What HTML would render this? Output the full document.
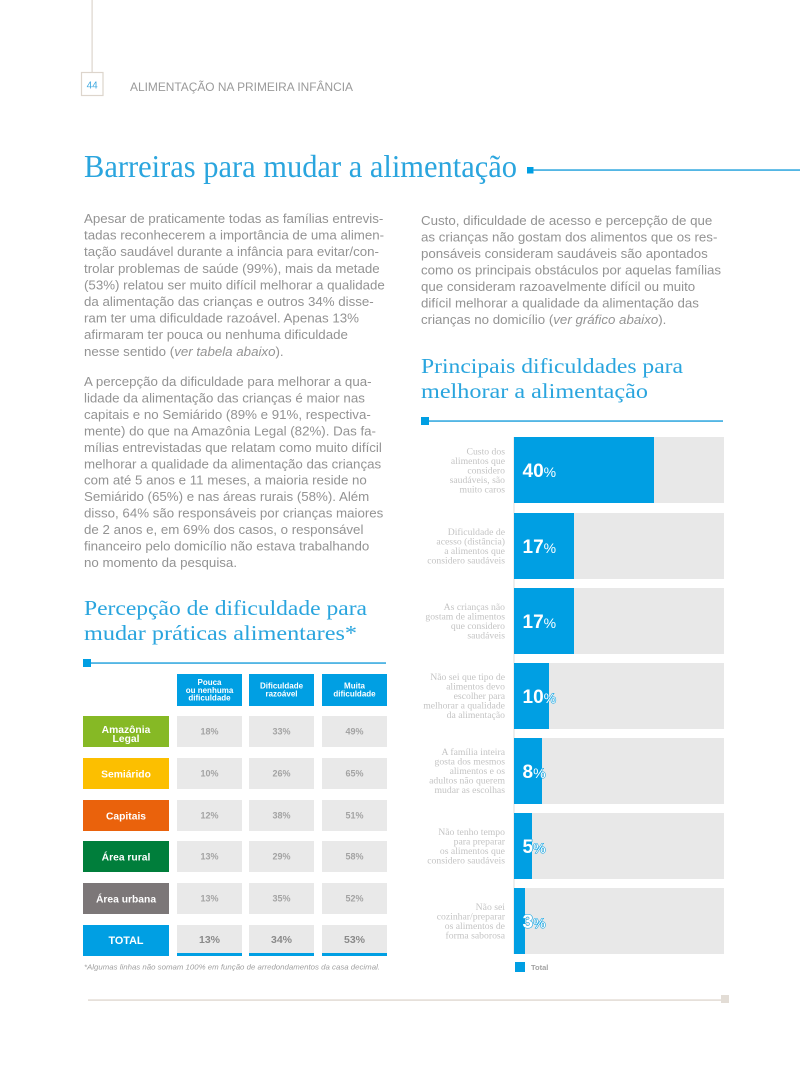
<!DOCTYPE html>
<html>
<head>
<meta charset="utf-8">
<style>
html,body{margin:0;padding:0;background:#fff;}
svg{display:block;}
.body{font-family:"Liberation Sans",sans-serif;font-size:13.3px;fill:#939393;}
.ttl{font-family:"Liberation Serif",serif;fill:#2aa5de;}
.hdr{font-family:"Liberation Sans",sans-serif;font-weight:bold;font-size:8px;fill:#fff;}
.lab{font-family:"Liberation Sans",sans-serif;font-weight:bold;font-size:10.3px;fill:#fff;}
.val{font-family:"Liberation Sans",sans-serif;font-weight:bold;font-size:9px;fill:#a3a3a3;}
.tval{font-family:"Liberation Sans",sans-serif;font-weight:bold;font-size:10.5px;fill:#8a8a8a;}
.cl{font-family:"Liberation Serif",serif;font-size:9.7px;fill:#c4c4c4;}
.pct{font-family:"Liberation Sans",sans-serif;font-weight:bold;font-size:19px;fill:#fff;stroke:#009fe3;stroke-width:1.1px;paint-order:stroke;}
.pct tspan.p{font-size:14px;font-weight:normal;}
</style>
</head>
<body>
<svg width="800" height="1067" viewBox="0 0 800 1067" xmlns="http://www.w3.org/2000/svg">
<!-- header -->
<rect x="91.5" y="0" width="1.2" height="72" fill="#ddd5cc"/>
<rect x="81.5" y="72.5" width="21.5" height="23" fill="#fff" stroke="#ddd5cc" stroke-width="1.2"/>
<text x="92.2" y="88.5" text-anchor="middle" font-family="Liberation Sans, sans-serif" font-size="10px" fill="#3fa9e0">44</text>
<text x="130" y="91" font-family="Liberation Sans, sans-serif" font-size="11.8px" fill="#9a9a9a" textLength="223" lengthAdjust="spacingAndGlyphs">ALIMENTAÇÃO NA PRIMEIRA INFÂNCIA</text>

<!-- main title -->
<text class="ttl" x="84" y="177" font-size="32px" textLength="433" lengthAdjust="spacingAndGlyphs">Barreiras para mudar a alimentação</text>
<rect x="527" y="167" width="6.5" height="6.5" fill="#009fe3"/>
<rect x="533" y="169.3" width="267" height="1.5" fill="#2aa5de"/>

<!-- left paragraph 1 -->
<g class="body">
<text x="84" y="223">Apesar de praticamente todas as famílias entrevis-</text>
<text x="84" y="239.6">tadas reconhecerem a importância de uma alimen-</text>
<text x="84" y="256.2">tação saudável durante a infância para evitar/con-</text>
<text x="84" y="272.8">trolar problemas de saúde (99%), mais da metade</text>
<text x="84" y="289.4">(53%) relatou ser muito difícil melhorar a qualidade</text>
<text x="84" y="306">da alimentação das crianças e outros 34% disse-</text>
<text x="84" y="322.6">ram ter uma dificuldade razoável. Apenas 13%</text>
<text x="84" y="339.2">afirmaram ter pouca ou nenhuma dificuldade</text>
<text x="84" y="355.8">nesse sentido (<tspan font-style="italic">ver tabela abaixo</tspan>).</text>

<text x="84" y="386">A percepção da dificuldade para melhorar a qua-</text>
<text x="84" y="402.45">lidade da alimentação das crianças é maior nas</text>
<text x="84" y="418.9">capitais e no Semiárido (89% e 91%, respectiva-</text>
<text x="84" y="435.35">mente) do que na Amazônia Legal (82%). Das fa-</text>
<text x="84" y="451.8">mílias entrevistadas que relatam como muito difícil</text>
<text x="84" y="468.25">melhorar a qualidade da alimentação das crianças</text>
<text x="84" y="484.7">com até 5 anos e 11 meses, a maioria reside no</text>
<text x="84" y="501.15">Semiárido (65%) e nas áreas rurais (58%). Além</text>
<text x="84" y="517.6">disso, 64% são responsáveis por crianças maiores</text>
<text x="84" y="534.05">de 2 anos e, em 69% dos casos, o responsável</text>
<text x="84" y="550.5">financeiro pelo domicílio não estava trabalhando</text>
<text x="84" y="566.95">no momento da pesquisa.</text>

<!-- right paragraph -->
<text x="421" y="225">Custo, dificuldade de acesso e percepção de que</text>
<text x="421" y="241.5">as crianças não gostam dos alimentos que os res-</text>
<text x="421" y="258">ponsáveis consideram saudáveis são apontados</text>
<text x="421" y="274.5">como os principais obstáculos por aquelas famílias</text>
<text x="421" y="291">que consideram razoavelmente difícil ou muito</text>
<text x="421" y="307.5">difícil melhorar a qualidade da alimentação das</text>
<text x="421" y="324">crianças no domicílio (<tspan font-style="italic">ver gráfico abaixo</tspan>).</text>
</g>

<!-- left subtitle -->
<text class="ttl" x="84" y="615" font-size="21px" textLength="283" lengthAdjust="spacingAndGlyphs">Percepção de dificuldade para</text>
<text class="ttl" x="84" y="640" font-size="21px" textLength="273" lengthAdjust="spacingAndGlyphs">mudar práticas alimentares*</text>
<rect x="83" y="659" width="8" height="8" fill="#009fe3"/>
<rect x="91" y="662.3" width="295" height="1.5" fill="#2aa5de"/>

<!-- table header -->
<rect x="177" y="674" width="65" height="32" fill="#009fe3"/>
<rect x="249" y="674" width="65" height="32" fill="#009fe3"/>
<rect x="322" y="674" width="65" height="32" fill="#009fe3"/>
<g class="hdr" text-anchor="middle">
<text x="209.5" y="685">Pouca</text>
<text x="209.5" y="692.8">ou nenhuma</text>
<text x="209.5" y="700.6">dificuldade</text>
<text x="281.5" y="688.5">Dificuldade</text>
<text x="281.5" y="696.5">razoável</text>
<text x="354.5" y="688.5">Muita</text>
<text x="354.5" y="696.5">dificuldade</text>
</g>

<!-- table rows -->
<rect x="83" y="716" width="86" height="31" fill="#86b925"/>
<rect x="83" y="758" width="86" height="31" fill="#fcbf00"/>
<rect x="83" y="800" width="86" height="31" fill="#ea620c"/>
<rect x="83" y="841" width="86" height="31" fill="#007e3b"/>
<rect x="83" y="883" width="86" height="31" fill="#7c7778"/>
<rect x="83" y="925" width="86" height="31" fill="#009fe3"/>
<g fill="#e9e9e9">
<rect x="177" y="716" width="65" height="31"/><rect x="249" y="716" width="65" height="31"/><rect x="322" y="716" width="65" height="31"/>
<rect x="177" y="758" width="65" height="31"/><rect x="249" y="758" width="65" height="31"/><rect x="322" y="758" width="65" height="31"/>
<rect x="177" y="800" width="65" height="31"/><rect x="249" y="800" width="65" height="31"/><rect x="322" y="800" width="65" height="31"/>
<rect x="177" y="841" width="65" height="31"/><rect x="249" y="841" width="65" height="31"/><rect x="322" y="841" width="65" height="31"/>
<rect x="177" y="883" width="65" height="31"/><rect x="249" y="883" width="65" height="31"/><rect x="322" y="883" width="65" height="31"/>
<rect x="177" y="925" width="65" height="31"/><rect x="249" y="925" width="65" height="31"/><rect x="322" y="925" width="65" height="31"/>
</g>
<g fill="#009fe3">
<rect x="177" y="953" width="65" height="3"/><rect x="249" y="953" width="65" height="3"/><rect x="322" y="953" width="65" height="3"/>
</g>
<g class="lab" text-anchor="middle">
<text x="126" y="732.8">Amazônia</text>
<text x="126" y="742">Legal</text>
<text x="126" y="777.3">Semiárido</text>
<text x="126" y="819.3">Capitais</text>
<text x="126" y="860.3">Área rural</text>
<text x="126" y="902.3">Área urbana</text>
<text x="126" y="943.8" font-size="10.8px">TOTAL</text>
</g>
<g class="val" text-anchor="middle">
<text x="209.5" y="734.7">18%</text><text x="281.5" y="734.7">33%</text><text x="354.5" y="734.7">49%</text>
<text x="209.5" y="776.7">10%</text><text x="281.5" y="776.7">26%</text><text x="354.5" y="776.7">65%</text>
<text x="209.5" y="818.7">12%</text><text x="281.5" y="818.7">38%</text><text x="354.5" y="818.7">51%</text>
<text x="209.5" y="859.7">13%</text><text x="281.5" y="859.7">29%</text><text x="354.5" y="859.7">58%</text>
<text x="209.5" y="901.7">13%</text><text x="281.5" y="901.7">35%</text><text x="354.5" y="901.7">52%</text>
</g>
<g class="tval" text-anchor="middle">
<text x="209.5" y="943">13%</text><text x="281.5" y="943">34%</text><text x="354.5" y="943">53%</text>
</g>
<text x="84" y="969.5" font-family="Liberation Sans, sans-serif" font-size="7.6px" font-style="italic" fill="#9e9e9e" textLength="296" lengthAdjust="spacingAndGlyphs">*Algumas linhas não somam 100% em função de arredondamentos da casa decimal.</text>

<!-- chart title -->
<text class="ttl" x="421" y="373" font-size="21.5px" textLength="262" lengthAdjust="spacingAndGlyphs">Principais dificuldades para</text>
<text class="ttl" x="421" y="398" font-size="21.5px" textLength="227" lengthAdjust="spacingAndGlyphs">melhorar a alimentação</text>
<rect x="421" y="417" width="8" height="8" fill="#009fe3"/>
<rect x="429" y="420.3" width="294" height="1.5" fill="#2aa5de"/>

<!-- chart bars -->
<rect x="513.5" y="437" width="1" height="517" fill="#dedede"/>
<g fill="#e8e8e8">
<rect x="514" y="437" width="210" height="66"/>
<rect x="514" y="513" width="210" height="66"/>
<rect x="514" y="588" width="210" height="66"/>
<rect x="514" y="663" width="210" height="66"/>
<rect x="514" y="738" width="210" height="66"/>
<rect x="514" y="813" width="210" height="66"/>
<rect x="514" y="888" width="210" height="66"/>
</g>
<g fill="#009fe3">
<rect x="514" y="437" width="140" height="66"/>
<rect x="514" y="513" width="60" height="66"/>
<rect x="514" y="588" width="60" height="66"/>
<rect x="514" y="663" width="35" height="66"/>
<rect x="514" y="738" width="28" height="66"/>
<rect x="514" y="813" width="18" height="66"/>
<rect x="514" y="888" width="11" height="66"/>
</g>
<g class="pct">
<text x="522.5" y="477">40<tspan class="p">%</tspan></text>
<text x="522.5" y="553">17<tspan class="p">%</tspan></text>
<text x="522.5" y="628">17<tspan class="p">%</tspan></text>
<text x="522.5" y="703">10<tspan class="p">%</tspan></text>
<text x="522.5" y="778">8<tspan class="p">%</tspan></text>
<text x="522.5" y="853">5<tspan class="p">%</tspan></text>
<text x="522.5" y="928">3<tspan class="p">%</tspan></text>
</g>

<!-- chart labels -->
<g class="cl" text-anchor="end">
<text x="505" y="454.5">Custo dos</text>
<text x="505" y="464">alimentos que</text>
<text x="505" y="473.5">considero</text>
<text x="505" y="483">saudáveis, são</text>
<text x="505" y="492.5">muito caros</text>

<text x="505" y="534.8">Dificuldade de</text>
<text x="505" y="544.3">acesso (distância)</text>
<text x="505" y="553.8">a alimentos que</text>
<text x="505" y="563.3">considero saudáveis</text>

<text x="505" y="609.8">As crianças não</text>
<text x="505" y="619.3">gostam de alimentos</text>
<text x="505" y="628.8">que considero</text>
<text x="505" y="638.3">saudáveis</text>

<text x="505" y="680">Não sei que tipo de</text>
<text x="505" y="689.5">alimentos devo</text>
<text x="505" y="699">escolher para</text>
<text x="505" y="708.5">melhorar a qualidade</text>
<text x="505" y="718">da alimentação</text>

<text x="505" y="755">A família inteira</text>
<text x="505" y="764.5">gosta dos mesmos</text>
<text x="505" y="774">alimentos e os</text>
<text x="505" y="783.5">adultos não querem</text>
<text x="505" y="793">mudar as escolhas</text>

<text x="505" y="834.8">Não tenho tempo</text>
<text x="505" y="844.3">para preparar</text>
<text x="505" y="853.8">os alimentos que</text>
<text x="505" y="863.3">considero saudáveis</text>

<text x="505" y="909.8">Não sei</text>
<text x="505" y="919.3">cozinhar/preparar</text>
<text x="505" y="928.8">os alimentos de</text>
<text x="505" y="938.3">forma saborosa</text>
</g>

<!-- legend -->
<rect x="515" y="962" width="10" height="10" fill="#009fe3"/>
<text x="531" y="970" font-family="Liberation Sans, sans-serif" font-weight="bold" font-size="7.5px" fill="#a3a3a3">Total</text>

<!-- bottom rule -->
<rect x="88" y="999.3" width="633" height="1.6" fill="#e3ddd6"/>
<rect x="721" y="995" width="8" height="8" fill="#e3ddd6"/>
</svg>
</body>
</html>
